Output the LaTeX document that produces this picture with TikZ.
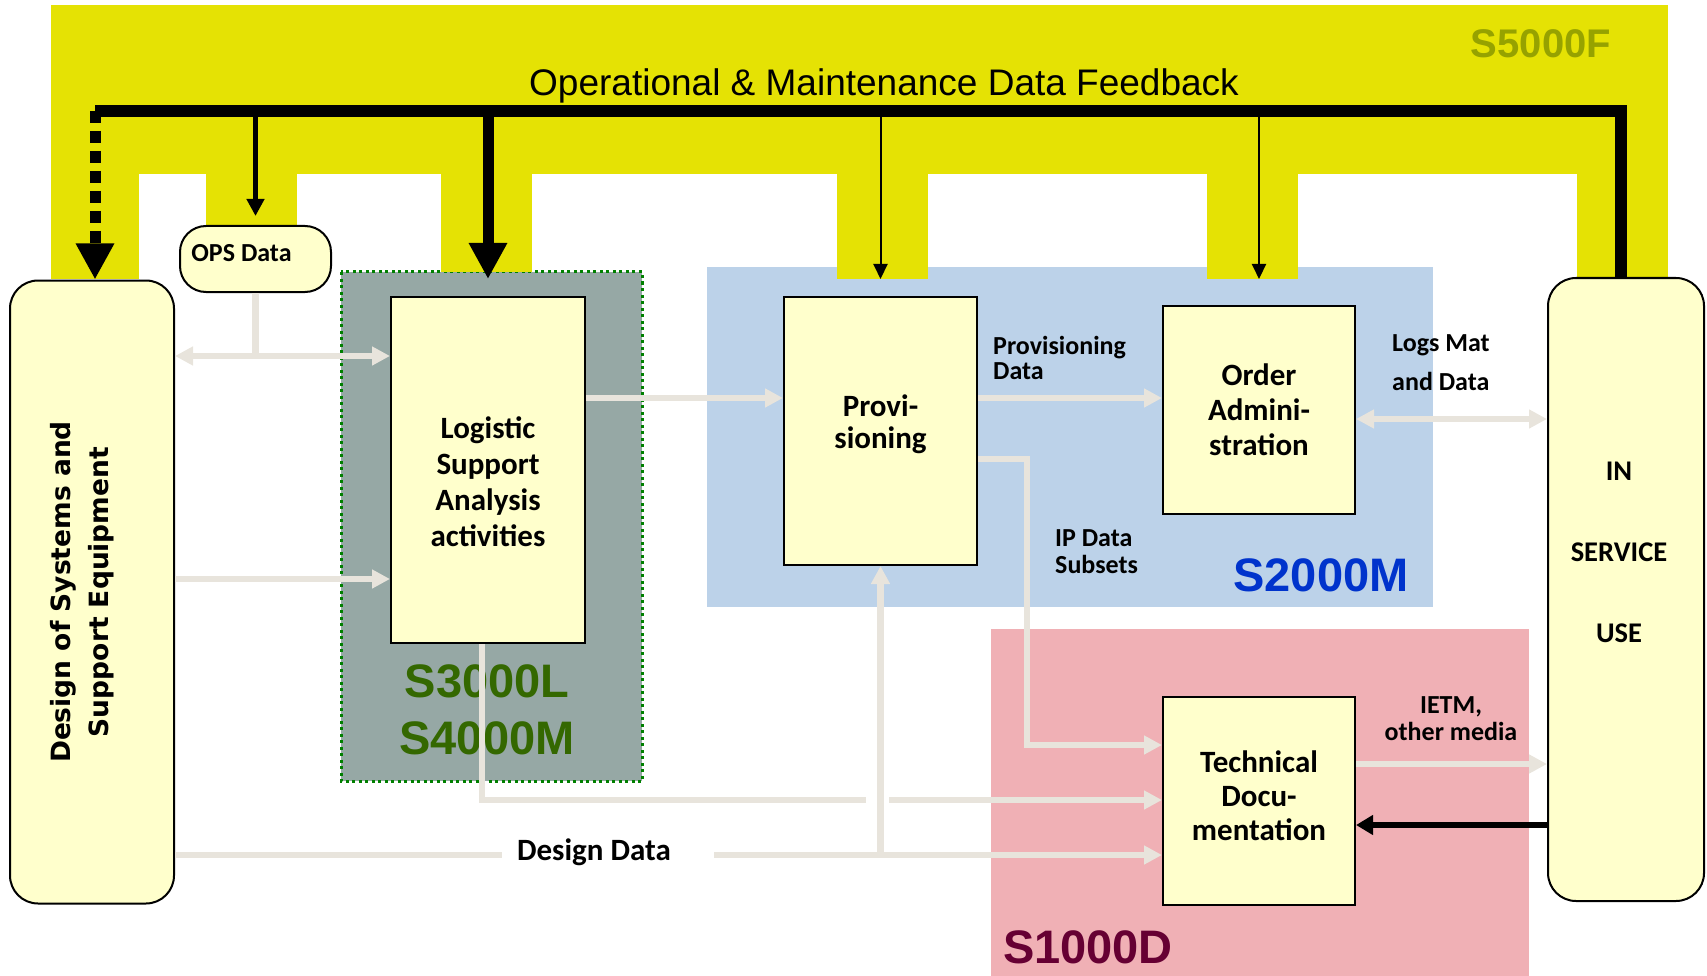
\documentclass[tikz,border=0pt]{standalone}
\usepackage{fontspec}
\setmainfont{Carlito}
\newfontfamily\arialfont{Liberation Sans}
\newfontfamily\verdanafont{DejaVu Sans}
\usetikzlibrary{arrows.meta}

\definecolor{fbyellow}{RGB}{229,226,4}
\definecolor{fbolive}{RGB}{150,162,0}
\definecolor{smblue}{RGB}{188,210,233}
\definecolor{smbluetext}{RGB}{0,51,204}
\definecolor{tdpink}{RGB}{240,176,181}
\definecolor{tdmaroon}{RGB}{102,0,51}
\definecolor{lsagray}{RGB}{150,168,165}
\definecolor{lsagreen}{RGB}{52,104,0}
\definecolor{lsadots}{RGB}{0,128,0}
\definecolor{boxfill}{RGB}{255,255,204}
\definecolor{flowgray}{RGB}{232,228,220}

\tikzset{
    stdbox/.style={draw=black, line width=2pt, fill=boxfill, align=center, inner sep=0pt,
        font=\bfseries\fontsize{31}{35}\selectfont},
    boxtext/.style={align=center, inner sep=0pt, font=\bfseries\fontsize{31}{36}\selectfont},
    flowline/.style={draw=flowgray, line width=6.5pt},
    flowarrow/.style={flowline, -{Triangle[length=18pt,width=18pt]}},
    flowboth/.style={flowline, {Triangle[length=18pt,width=18pt]}-{Triangle[length=18pt,width=18pt]}},
    flowlabel/.style={inner sep=0pt, align=left, font=\bfseries\fontsize{26}{27}\selectfont},
    specname/.style={inner sep=0pt, align=center, font=\arialfont\bfseries\fontsize{47}{57}\selectfont},
    fbbar/.style={draw=black, line width=12pt},
    fbthick/.style={draw=black, line width=11pt, -{Triangle[length=36pt,width=36pt]}},
    fbdash/.style={fbthick, dash pattern=on 12pt off 8pt},
    fbmid/.style={draw=black, line width=5pt, -{Triangle[length=17pt,width=17pt]}},
    fbthin/.style={draw=black, line width=2pt, -{Triangle[length=15pt,width=14pt]}},
    fbback/.style={draw=black, line width=6pt, -{Triangle[length=17pt,width=19pt]}},
}

\begin{document}
\begin{tikzpicture}[x=1pt, y=-1pt]
    \useasboundingbox (0,0) rectangle (1707,976);

    % spec areas
    \fill[smblue] (707,267) rectangle (1433,607);
    \fill[tdpink] (991,629) rectangle (1529,976);
    \filldraw[fill=lsagray, draw=lsadots, line width=3pt, dash pattern=on 3pt off 3.5pt] (341,272) rectangle (642,781);

    % S5000F band and its legs
    \fill[fbyellow] (51,5) rectangle (1668,174);
    \fill[fbyellow] (51,170) rectangle (139,279);
    \fill[fbyellow] (206,170) rectangle (297,236);
    \fill[fbyellow] (441,170) rectangle (532,272);
    \fill[fbyellow] (837,170) rectangle (928,279);
    \fill[fbyellow] (1207,170) rectangle (1298,279);
    \fill[fbyellow] (1577,170) rectangle (1668,279);

    \node[specname, text=fbolive, font=\arialfont\bfseries\fontsize{40}{40}\selectfont] (s5000f) at (1541,44) {S5000F};
    \node[inner sep=0pt, font=\arialfont\fontsize{37}{37}\selectfont] (feedback) at (884,86) {Operational \& Maintenance Data Feedback};
    \node[specname, text=smbluetext] (s2000m) at (1321,575) {S2000M};
    \node[specname, text=tdmaroon] (s1000d) at (1088,947) {S1000D};
    \node[specname, text=lsagreen] (s3000l) at (487,710) {S3000L\\S4000M};

    % boxes
    \node[stdbox, rounded corners=28pt, minimum width=164pt, minimum height=623pt] (design) at (92,592) {};
    \node[boxtext, rotate=90, font=\verdanafont\bfseries\fontsize{26.5}{38}\selectfont] (designtext) at ([xshift=-10pt]design.center) {Design of Systems and\\Support Equipment};
    \node[stdbox, rounded corners=26pt, minimum width=151pt, minimum height=66pt] (ops) at (255.5,259) {};
    \node[boxtext, font=\bfseries\fontsize{26}{26}\selectfont] (opstext) at ([xshift=-14pt,yshift=6pt]ops.center) {OPS Data};
    \node[stdbox, minimum width=194pt, minimum height=346pt] (lsa) at (488,470) {};
    \node[boxtext] (lsatext) at ([yshift=-12pt]lsa.center) {Logistic\\Support\\Analysis\\activities};
    \node[stdbox, minimum width=193pt, minimum height=268pt] (prov) at (880.5,431) {};
    \node[boxtext, font=\bfseries\fontsize{31}{32}\selectfont] (provtext) at ([yshift=7pt]prov.center) {Provi-\\sioning};
    \node[stdbox, minimum width=192pt, minimum height=208pt] (order) at (1259,410) {Order\\Admini-\\stration};
    \node[stdbox, minimum width=192pt, minimum height=208pt] (techdoc) at (1259,801) {};
    \node[boxtext, font=\bfseries\fontsize{31}{34}\selectfont] (techdoctext) at ([yshift=5pt]techdoc.center) {Technical\\Docu-\\mentation};
    \node[stdbox, rounded corners=28pt, minimum width=156pt, minimum height=623pt] (service) at (1626,589.5) {};
    \node[boxtext, font=\bfseries\fontsize{28.5}{81}\selectfont] (servicetext) at ([xshift=-7pt,yshift=37pt]service.center) {IN\\SERVICE\\USE};

    % flow labels
    \node[flowlabel, anchor=west, font=\bfseries\fontsize{26}{25}\selectfont] (provdata) at (993,358) {Provisioning\\Data};
    \node[flowlabel, anchor=west, font=\bfseries\fontsize{26}{39}\selectfont] (logsdata) at (1392,363) {Logs Mat\\and Data};
    \node[flowlabel, anchor=west] (ipdata) at (1055,552) {IP Data\\Subsets};
    \node[flowlabel, align=center] (ietm) at (1451,719) {IETM,\\other media};
    \node[flowlabel, font=\bfseries\fontsize{31}{31}\selectfont] (ddtext) at (594,852) {Design Data};

    % rows of the flows
    \coordinate (opsrow) at (0,356);
    \coordinate (lsarow) at (0,398);
    \coordinate (logsrow) at (0,419);
    \coordinate (iprow) at (0,459);
    \coordinate (designrow) at (0,579);
    \coordinate (ietmrow) at (0,764);
    \coordinate (backrow) at (0,825);
    \coordinate (ddrow) at (0,855);
    \coordinate (ipturn) at (1027,745);
    \coordinate (lsaturn) at (482,800);
    \coordinate (jumpa) at (866,800);
    \coordinate (jumpb) at (889,800);

    % data flows
    \draw[flowline] (ops.south) -- (ops.south |- opsrow);
    \draw[flowboth] (design.east |- opsrow) -- (lsa.west |- opsrow);
    \draw[flowarrow] (design.east |- designrow) -- (lsa.west |- designrow);
    \draw[flowarrow] (lsa.east |- lsarow) -- (prov.west |- lsarow);
    \draw[flowarrow] (prov.east |- lsarow) -- (order.west |- lsarow);
    \draw[flowboth] (order.east |- logsrow) -- (service.west |- logsrow);
    \draw[flowarrow] (prov.east |- iprow) -| (ipturn) -- (techdoc.west |- ipturn);
    \draw[flowline] (lsa.south -| lsaturn) |- (jumpa);
    \draw[flowarrow] (jumpb) -- (techdoc.west |- jumpb);
    \draw[flowline] (design.east |- ddrow) -- ([xshift=-15pt]ddtext.west |- ddrow);
    \draw[flowarrow] ([xshift=43pt]ddtext.east |- ddrow) -- (techdoc.west |- ddrow);
    \draw[flowarrow] ([yshift=3pt]prov.south |- ddrow) -- (prov.south);
    \draw[flowarrow] (techdoc.east |- ietmrow) -- (service.west |- ietmrow);

    % feedback
    \coordinate (fbleft) at (95,111);
    \coordinate (fbright) at (1621,111);
    \draw[fbbar] (fbright |- service.north) -- (fbright) -- (fbleft);
    \draw[fbdash] (fbleft) -- (fbleft |- design.north);
    \draw[fbmid] (fbleft -| ops.north) -- ([yshift=9pt]ops.north);
    \draw[fbthick] (fbleft -| lsa.north) -- ([yshift=17pt]lsa.north);
    \draw[fbthin] (fbleft -| prov.north) -- ([yshift=17pt]prov.north);
    \draw[fbthin] (fbleft -| order.north) -- ([yshift=26pt]order.north);
    \draw[fbback] (service.west |- backrow) -- (techdoc.east |- backrow);

\end{tikzpicture}
\end{document}
